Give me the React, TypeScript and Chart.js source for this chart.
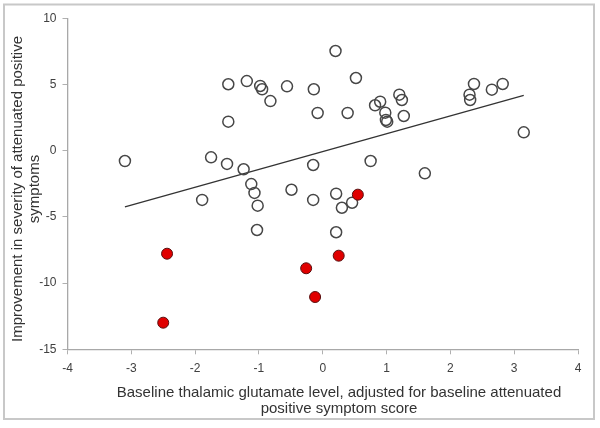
import { useEffect, useRef } from "react";
import { Chart, registerables } from "chart.js";

Chart.register(...registerables);

// Open circles (participants without transition)
const openX = [
  -3.10, -1.48, -1.19, -0.98, -0.95, -0.82, -0.56, -0.14, -0.08, -1.48,
  -1.75, -1.50, -1.24, -0.15, 0.20, 0.52, 0.39, 0.82, 0.90, 0.98,
  0.99, 1.01, 1.20, 1.24, 1.27, 2.37, 2.30, 2.31, 2.65, 2.82,
  3.15, 0.75, 1.60, -1.12, -1.07, -1.02, -1.89, -0.49, -0.15, -1.03,
  0.21, 0.30, 0.46, 0.21,
];
const openY = [
  -0.78, 5.02, 5.26, 4.89, 4.64, 3.75, 4.86, 4.64, 2.85, 2.19,
  -0.50, -1.00, -1.40, -1.08, 7.53, 5.49, 2.85, 3.43, 3.70, 2.87,
  2.32, 2.19, 4.23, 3.83, 2.62, 5.04, 4.23, 3.83, 4.61, 5.04,
  1.39, -0.78, -1.71, -2.52, -3.19, -4.15, -3.72, -2.95, -3.72, -5.99,
  -3.25, -4.31, -3.93, -6.16,
];

// Filled red circles
const redX = [-2.44, -2.50, -0.26, -0.12, 0.55, 0.25];
const redY = [-7.78, -12.99, -8.88, -11.05, -3.32, -7.93];

// Linear trend line end points
const trendX = [-3.10, 3.15];
const trendY = [-4.24, 4.18];

const xMin = -4;
const xMax = 4;
const xStep = 1;
const yMin = -15;
const yMax = 10;
const yStep = 5;

const xTitle = [
  "Baseline thalamic glutamate level, adjusted for baseline attenuated",
  "positive symptom score",
];
const yTitle = ["Improvement in severity of attenuated positive", "symptoms"];

const FONT = "'Liberation Sans', Arial, sans-serif";

export default function App() {
  const ref = useRef<HTMLCanvasElement | null>(null);

  useEffect(() => {
    if (!ref.current) return;
    const frame = {
      id: "frame",
      beforeDraw(chart: any) {
        const c = chart.ctx;
        c.save();
        c.fillStyle = "#ffffff";
        c.fillRect(0, 0, chart.width, chart.height);
        c.restore();
      },
      afterDraw(chart: any) {
        const c = chart.ctx;
        c.save();
        c.strokeStyle = "#c8c8c8";
        c.lineWidth = 2;
        c.strokeRect(4, 4.5, 590, 414.5);

        c.fillStyle = "#333333";
        c.font = `15px ${FONT}`;
        c.textAlign = "center";
        c.textBaseline = "middle";
        // x-axis title
        xTitle.forEach((t, i) => c.fillText(t, 339, 392.7 + i * 16.5));
        // y-axis title
        c.translate(0, 189);
        c.rotate(-Math.PI / 2);
        yTitle.forEach((t, i) => c.fillText(t, 0, 18 + i * 17));
        c.restore();
      },
    };

    const chart = new Chart(ref.current, {
      type: "scatter",
      data: {
        datasets: [
          {
            data: redX.map((x, i) => ({ x, y: redY[i] })),
            backgroundColor: "#e00000",
            borderColor: "#5a1010",
            borderWidth: 1,
            pointRadius: 5.5,
          },
          {
            data: openX.map((x, i) => ({ x, y: openY[i] })),
            backgroundColor: "rgba(0,0,0,0)",
            borderColor: "#474747",
            borderWidth: 1.5,
            pointRadius: 5.5,
          },
          {
            type: "line",
            data: trendX.map((x, i) => ({ x, y: trendY[i] })),
            borderColor: "#333333",
            borderWidth: 1.3,
            pointRadius: 0,
            fill: false,
          } as any,
        ],
      },
      options: {
        animation: false,
        responsive: false,
        maintainAspectRatio: false,
        layout: { padding: { left: 0, right: 22, top: 18.3, bottom: 0 } },
        plugins: {
          legend: { display: false },
          tooltip: { enabled: false },
        },
        scales: {
          x: {
            type: "linear",
            min: xMin,
            max: xMax,
            afterFit(scale: any) {
              scale.height = 78.7;
            },
            ticks: {
              stepSize: xStep,
              color: "#404040",
              font: { family: FONT, size: 12 },
              padding: 7,
            },
            grid: {
              drawOnChartArea: false,
              drawTicks: true,
              tickLength: 5,
              color: "#b0b0b0",
            },
            border: { display: true, color: "#a8a8a8", width: 1.3 },
            title: { display: false },
          },
          y: {
            type: "linear",
            min: yMin,
            max: yMax,
            afterFit(scale: any) {
              scale.width = 67.5;
            },
            ticks: {
              stepSize: yStep,
              color: "#404040",
              font: { family: FONT, size: 12 },
              padding: 6,
            },
            grid: {
              drawOnChartArea: false,
              drawTicks: true,
              tickLength: 5,
              color: "#b0b0b0",
            },
            border: { display: true, color: "#a8a8a8", width: 1.3 },
            title: { display: false },
          },
        },
      },
      plugins: [frame],
    });
    return () => chart.destroy();
  }, []);

  return (
    <div style={{ position: "fixed", left: 0, top: 0, width: 600, height: 428 }}>
      <canvas ref={ref} width={600} height={428} style={{ width: 600, height: 428 }} />
    </div>
  );
}
